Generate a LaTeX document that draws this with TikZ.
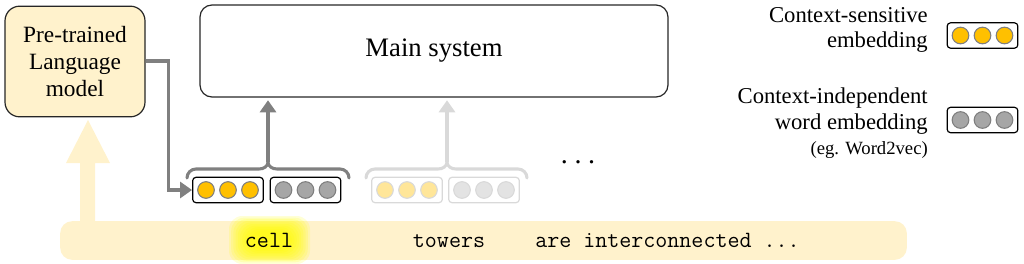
\documentclass[tikz,border=0pt]{standalone}
\usepackage{fontspec}
\setmainfont{Liberation Serif}
\usetikzlibrary{arrows.meta}
\definecolor{lmfill}{HTML}{FFF2CC}
\definecolor{barfill}{HTML}{FFF2CC}
\definecolor{orangec}{HTML}{FFC000}
\definecolor{grayc}{HTML}{A6A6A6}
\definecolor{dotedge}{HTML}{7F7F7F}
\definecolor{linegray}{HTML}{808080}
\definecolor{fadeline}{HTML}{D9D9D9}
\definecolor{fadeorange}{HTML}{FFE699}
\definecolor{fadegray}{HTML}{E3E3E3}
\definecolor{glow}{HTML}{FFFF00}
\tikzset{
  embbox/.style={rounded corners=2.5pt, fill=white, line width=0.9pt, minimum width=53pt, minimum height=19pt, inner sep=0pt},
  embdot/.style={circle, line width=0.8pt, minimum size=12.5pt, inner sep=0pt},
  garrow/.style={draw=linegray, line width=2.4pt, -{Triangle[length=9pt,width=12pt]}},
  fadearrow/.style={draw=fadeline, line width=2.4pt, -{Triangle[length=9pt,width=12pt]}},
  bracestyle/.style={line width=2.3pt, line cap=round},
  serif18/.style={font=\fontsize{17.5}{20}\selectfont},
  legendtext/.style={font=\fontsize{17}{19}\selectfont, align=right, anchor=east, inner sep=0pt},
  monotext/.style={font=\ttfamily\fontsize{17.5}{20}\selectfont, inner sep=0pt},
}
\newcommand\myemb[6]{%
  \node[embbox, draw=#6] (#1) at (#2,#3) {};
  \foreach \k/\dx in {a/-22,b/0,c/22}
    \node[embdot, fill=#4, draw=#5] (#1\k) at (#2+\dx,#3) {};
}
\begin{document}
\begin{tikzpicture}[x=0.75pt,y=-0.75pt]
\useasboundingbox (0,0) rectangle (1024,264);

% bottom bar
\node[fill=barfill, rounded corners=9pt, minimum width=635pt, minimum height=29pt, inner sep=0pt] (bar) at (483.5,240.5) {};

% big light arrow from bar to LM
\fill[barfill] (80,221) -- (80,163) -- (66,163) -- (88,120) -- (110,163) -- (95,163) -- (95,221) -- cycle;

% glow behind "cell"
\foreach \i in {0,...,9}
  \fill[glow, opacity=0.16, rounded corners=10pt] (229+\i*2.2,216+\i*1.6) rectangle (310-\i*2.2,264-\i*1.6);

% words
\node[monotext, anchor=base] (w1) at (269,247.5) {cell};
\node[monotext, anchor=base] (w2) at (449,247.5) {towers};
\node[monotext, anchor=base west] (w3) at (535,247.5) {are interconnected ...};

% LM box
\node[draw=black!85, fill=lmfill, line width=0.9pt, rounded corners=11pt, minimum width=105pt, minimum height=83pt, align=center, serif18] (LM) at (75,61.5) {Pre-trained\\Language\\model};

% main system
\node[draw=black!85, line width=0.9pt, rounded corners=9pt, minimum width=351pt, minimum height=69pt, font=\fontsize{20}{24}\selectfont] (main) at (434,51) {Main system};

% embeddings
\myemb{e1}{228}{190}{orangec}{dotedge}{black}
\myemb{e2}{305.5}{190}{grayc}{dotedge}{black}
\myemb{f1}{407}{190}{fadeorange}{fadeline}{fadeline}
\myemb{f2}{484}{190}{fadegray}{fadeline}{fadeline}

% braces
\coordinate (p1) at (268,162);
\draw[bracestyle, draw=linegray] (187,178) to[out=90,in=180] (196,169) -- (259,169) to[out=0,in=-90] (p1) to[out=-90,in=180] (277,169) -- (340,169) to[out=0,in=90] (349,178);
\coordinate (p2) at (447,162);
\draw[bracestyle, draw=fadeline] (366,178) to[out=90,in=180] (375,169) -- (438,169) to[out=0,in=-90] (p2) to[out=-90,in=180] (456,169) -- (518,169) to[out=0,in=90] (527,178);

% arrows up
\draw[garrow, shorten >=2pt] (p1) -- (main.south -| p1);
\draw[fadearrow, shorten >=2pt] (p2) -- (main.south -| p2);

% LM to embedding
\draw[garrow] (LM.east |- 0,61) -- (168.5,61) |- (e1.west);

% dots
\node[font=\fontsize{21}{24}\selectfont, inner sep=0pt, anchor=base] (dots) at (578,163) {.\hspace{5pt}.\hspace{5pt}.};

% legend
\node[legendtext] (l1) at (928,30) {Context-sensitive\\embedding};
\myemb{lg1}{982.5}{35.5}{orangec}{dotedge}{black}
\node[legendtext] (l2) at (928,111) {Context-independent\\word embedding};
\node[font=\fontsize{14}{16}\selectfont, anchor=east, inner sep=0pt] (l3) at (928,150) {(eg. Word2vec)};
\myemb{lg2}{982.5}{120}{grayc}{dotedge}{black}
\end{tikzpicture}
\end{document}
